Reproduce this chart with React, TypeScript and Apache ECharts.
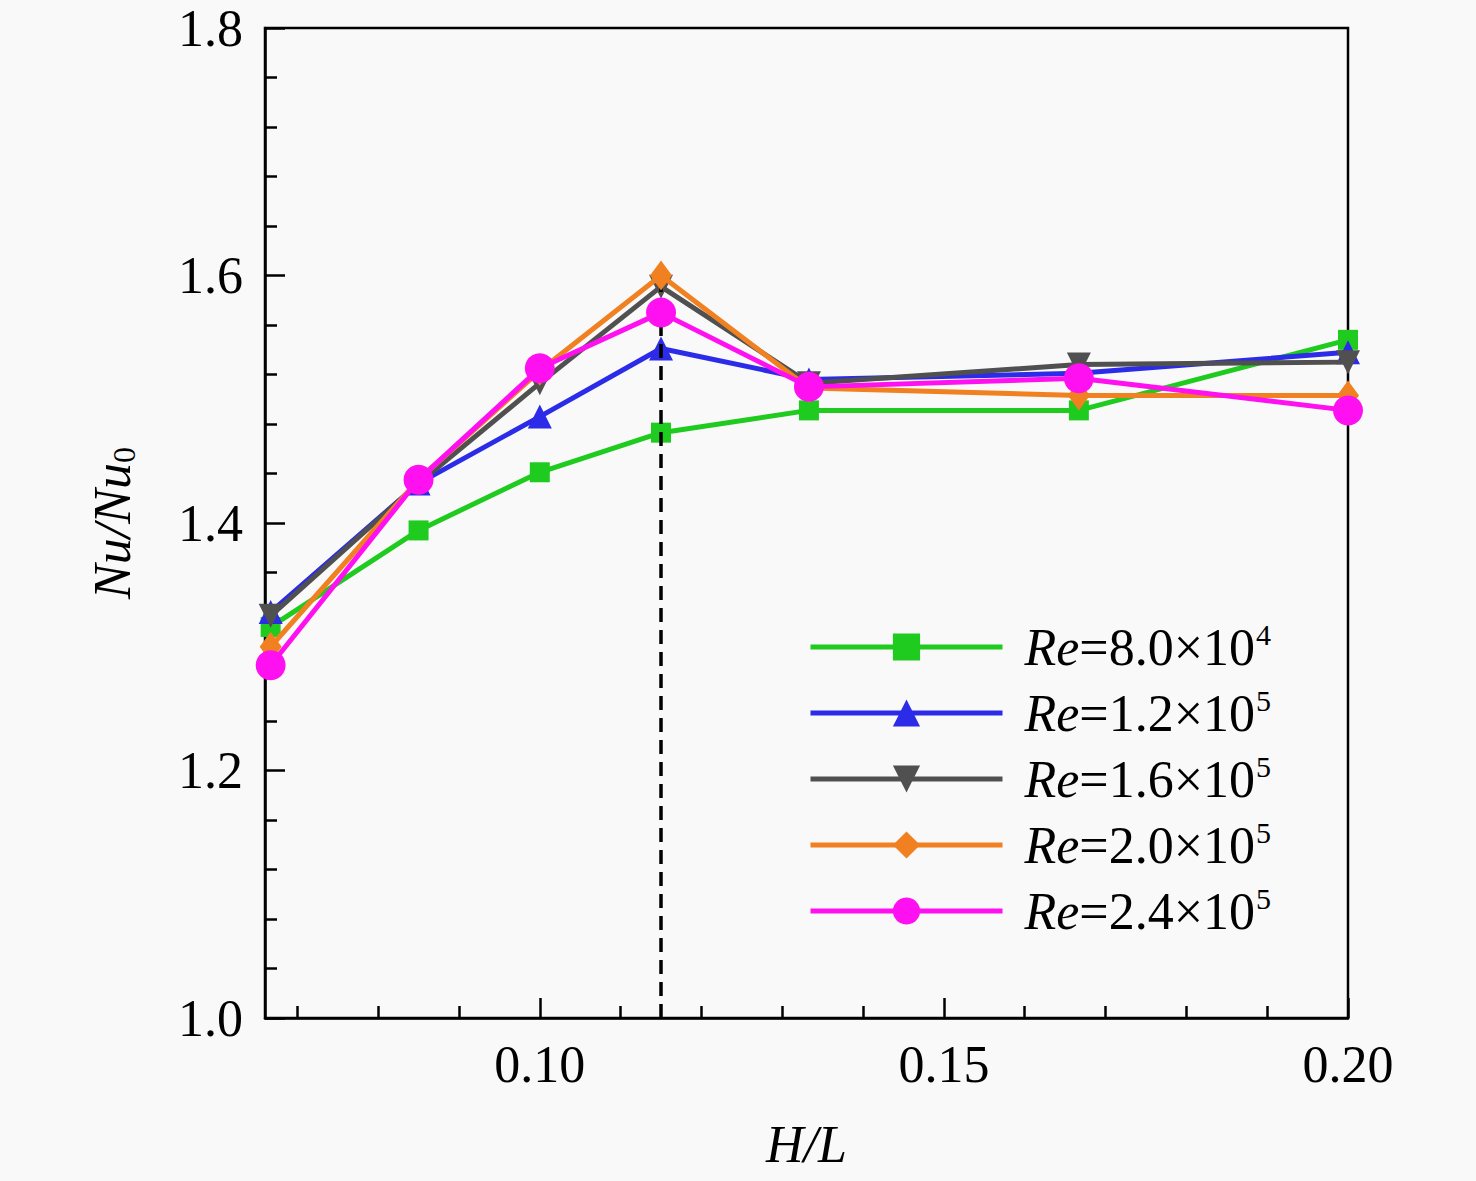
import React, { useEffect, useRef } from "react";
import * as echarts from "echarts";

const hl = [0.0667, 0.085, 0.1, 0.115, 0.1333, 0.1667, 0.2];
const re80 = [1.316, 1.394, 1.441, 1.473, 1.491, 1.491, 1.548];
const re120 = [1.328, 1.432, 1.486, 1.541, 1.516, 1.521, 1.538];
const re160 = [1.325, 1.432, 1.513, 1.591, 1.513, 1.528, 1.53];
const re200 = [1.3, 1.435, 1.523, 1.6, 1.509, 1.503, 1.503];
const re240 = [1.285, 1.435, 1.525, 1.57, 1.51, 1.517, 1.491];

const reMantissa = ["8.0", "1.2", "1.6", "2.0", "2.4"];
const reExponent = ["4", "5", "5", "5", "5"];

const xMajorTicks = [0.1, 0.15, 0.2];
const xMinorTicks = [0.07, 0.08, 0.09, 0.11, 0.12, 0.13, 0.14, 0.16, 0.17, 0.18, 0.19];
const peakX = [0.115];
const peakY = [1.0, 1.6];

const FONT = "'Liberation Serif', 'Times New Roman', serif";

export default function App() {
  const ref = useRef<HTMLDivElement>(null);
  useEffect(() => {
    if (!ref.current) return;
    const chart = echarts.init(ref.current, null, { renderer: "svg" });
    const seriesData = [re80, re120, re160, re200, re240];
    const colors = ["#1ecb1e", "#2b2be8", "#505050", "#f08020", "#ff10f0"];
    const symbols = ["rect", "triangle", "path://M0,0 L10,0 L5,9 Z", "diamond", "circle"];
    const sizes: any[] = [20, 24, 24, [22, 30], 30];
    const names = reMantissa.map((m, i) => `Re=${m}×10^${reExponent[i]}`);

    const series: any[] = seriesData.map((vals, i) => ({
      name: names[i],
      type: "line",
      data: vals.map((v, j) => [hl[j], v]),
      symbol: symbols[i],
      symbolSize: sizes[i],
      showAllSymbol: true,
      lineStyle: { color: colors[i], width: 5 },
      itemStyle: { color: colors[i] },
      z: 2 + i,
    }));
    series.push({
      name: "peak",
      type: "line",
      data: [],
      z: 20,
      markLine: {
        silent: true,
        symbol: "none",
        label: { show: false },
        lineStyle: { color: "#000", type: [14, 8], width: 3.5 },
        data: [[{ coord: [peakX[0], peakY[0]] }, { coord: [peakX[0], peakY[1]] }]],
      },
    });

    chart.setOption({
      animation: false,
      backgroundColor: "#f9f9f9",
      grid: {
        left: 265,
        right: 128,
        top: 28,
        bottom: 163,
        show: true,
        borderColor: "#000",
        borderWidth: 2.5,
        backgroundColor: "transparent",
      },
      legend: {
        data: names,
        orient: "vertical",
        left: 808,
        top: 619,
        padding: 0,
        itemWidth: 192,
        itemHeight: 34,
        itemGap: 12,
        lineStyle: { width: 5 },
        formatter: (name: string) => {
          const m = name.match(/Re=(.*)×10\^(\d)/);
          if (!m) return name;
          return `{i|Re}{n|=${m[1]}×10}{s|${m[2]}}`;
        },
        textStyle: {
          padding: [0, 0, 0, 17],
          rich: {
            i: { fontFamily: FONT, fontStyle: "italic", fontSize: 52, lineHeight: 56, color: "#000" },
            n: { fontFamily: FONT, fontSize: 52, lineHeight: 56, color: "#000" },
            s: { fontFamily: FONT, fontSize: 30, lineHeight: 30, verticalAlign: "top", color: "#000", padding: [0, 0, 0, 1] },
          },
        },
      },
      xAxis: [
        {
          type: "value",
          min: 0.066,
          max: 0.2,
          position: "bottom",
          name: "H/L",
          nameLocation: "middle",
          nameGap: 100,
          nameTextStyle: { fontFamily: FONT, fontStyle: "italic", fontSize: 52, color: "#000" },
          axisLine: { show: true, lineStyle: { color: "#000", width: 2.5 } },
          axisTick: { show: true, inside: true, length: 20, customValues: xMajorTicks, lineStyle: { color: "#000", width: 2.5 } },
          axisLabel: {
            customValues: xMajorTicks,
            formatter: (v: number) => v.toFixed(2),
            fontFamily: FONT,
            fontSize: 52,
            color: "#000",
            margin: 20,
          },
          splitLine: { show: false },
        },
        {
          type: "value",
          min: 0.066,
          max: 0.2,
          position: "bottom",
          axisLine: { show: false },
          axisTick: { show: true, inside: true, length: 12, customValues: xMinorTicks, lineStyle: { color: "#000", width: 2.5 } },
          axisLabel: { show: false },
          splitLine: { show: false },
        },
      ],
      yAxis: {
        type: "value",
        min: 1.0,
        max: 1.8,
        interval: 0.2,
        name: "{i|Nu/Nu}{sub|0}",
        nameLocation: "middle",
        nameGap: 125,
        nameRotate: 90,
        nameTextStyle: {
          rich: {
            i: { fontFamily: FONT, fontStyle: "italic", fontSize: 52, lineHeight: 56, color: "#000" },
            sub: { fontFamily: FONT, fontSize: 32, lineHeight: 56, verticalAlign: "bottom", color: "#000", padding: [18, 0, 0, 0] },
          },
        },
        axisLine: { show: true, lineStyle: { color: "#000", width: 2.5 } },
        axisTick: { show: true, inside: true, length: 20, lineStyle: { color: "#000", width: 2.5 } },
        minorTick: { show: true, splitNumber: 5, length: 12, lineStyle: { color: "#000", width: 2.5 } },
        axisLabel: {
          formatter: (v: number) => v.toFixed(1),
          fontFamily: FONT,
          fontSize: 52,
          color: "#000",
          margin: 22,
        },
        splitLine: { show: false },
      },
      series,
    });
    return () => chart.dispose();
  }, []);
  return (
    <div
      ref={ref}
      style={{ position: "fixed", left: 0, top: 0, width: 1476, height: 1181 }}
    />
  );
}
